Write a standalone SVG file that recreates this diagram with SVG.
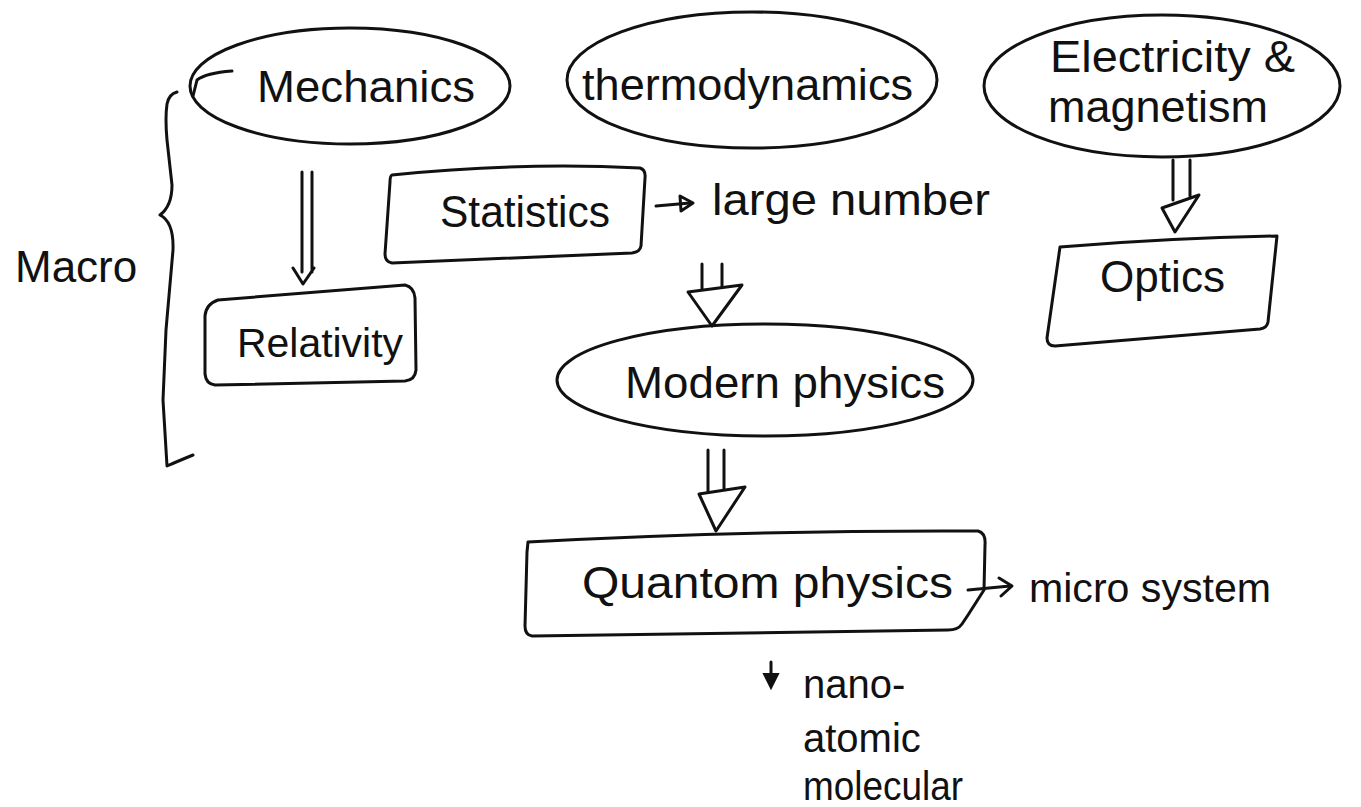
<svg xmlns="http://www.w3.org/2000/svg" width="1361" height="807" viewBox="0 0 1361 807">
<style>
.s{fill:none;stroke:#111;stroke-width:3;stroke-linecap:round;stroke-linejoin:round}
.h{fill:#fff;stroke:#111;stroke-width:3;stroke-linejoin:round}
.t{font-family:"Liberation Sans",Arial,sans-serif;font-size:44px;fill:#111}
.m{font-size:40px}
</style>
<rect width="1361" height="807" fill="#fff"/>
<g id="macro">
<path class="s" d="M177,92 Q169,94 167,104 Q165,118 167,140 L172,185 Q172,206 160,215 Q174,222 173,250 L166,330 L163,400 L167,466 Q176,462 193,455"/>
<text class="t" x="15" y="282">Macro</text>
</g>
<g id="mechanics">
<ellipse class="s" cx="350" cy="86" rx="160" ry="58"/>
<path class="s" d="M193,96 L197,80 Q206,73 232,71"/>
<text class="t" x="257" y="102" textLength="218" lengthAdjust="spacingAndGlyphs">Mechanics</text>
</g>
<g id="thermodynamics">
<ellipse class="s" cx="752" cy="80" rx="185" ry="68"/>
<text class="t" x="582" y="100" textLength="331" lengthAdjust="spacingAndGlyphs">thermodynamics</text>
</g>
<g id="em">
<ellipse class="s" cx="1162" cy="86" rx="178" ry="71"/>
<text class="t" x="1050" y="72" font-size="42" textLength="245" lengthAdjust="spacingAndGlyphs">Electricity &amp;</text>
<text class="t" x="1048" y="122" font-size="42" textLength="220" lengthAdjust="spacingAndGlyphs">magnetism</text>
</g>
<g id="statistics">
<path class="s" d="M392,175 Q520,162 640,168 Q646,170 645,178 L641,246 Q640,252 632,253 L392,263 Q385,262 385,254 L390,182 Q390,176 392,175 Z"/>
<text class="t" x="440" y="227" textLength="170" lengthAdjust="spacingAndGlyphs">Statistics</text>
</g>
<g id="large-number">
<text class="t" x="712" y="215" textLength="278" lengthAdjust="spacingAndGlyphs">large number</text>
</g>
<g id="relativity">
<path class="s" d="M218,300 L405,285 Q414,287 415,298 L416,370 Q415,380 405,381 L215,385 Q206,384 205,374 L205,316 Q206,304 218,300 Z"/>
<text class="t m" x="237" y="357" textLength="166" lengthAdjust="spacingAndGlyphs">Relativity</text>
</g>
<g id="modern">
<ellipse class="s" cx="765" cy="380" rx="208" ry="56"/>
<text class="t" x="625" y="398" textLength="320" lengthAdjust="spacingAndGlyphs">Modern physics</text>
</g>
<g id="optics">
<path class="s" d="M1060,247 Q1170,238 1277,236 L1268,322 Q1267,328 1260,329 L1055,346 Q1047,346 1047,338 Z"/>
<text class="t" x="1100" y="292" textLength="125" lengthAdjust="spacingAndGlyphs">Optics</text>
</g>
<g id="quantum">
<path class="s" d="M528,542 Q750,530 978,531 Q986,533 985,545 L984,590 L968,615 L962,624 Q958,630 948,630 L532,636 Q525,635 525,626 L527,552 Z"/>
<text class="t" x="582" y="598" font-size="46" textLength="371" lengthAdjust="spacingAndGlyphs">Quantom physics</text>
</g>
<g id="micro-system">
<text class="t m" x="1029" y="602" font-size="42" textLength="242" lengthAdjust="spacingAndGlyphs">micro system</text>
</g>
<g id="scales">
<text class="t m" x="803" y="698">nano-</text>
<text class="t m" x="803" y="752">atomic</text>
<text class="t m" x="803" y="800" textLength="160" lengthAdjust="spacingAndGlyphs">molecular</text>
</g>
<g id="connectors">
<path class="s" d="M302,172 L302,272 M312,172 L312,272 M293,268 L303,284 L314,268"/>
<path class="s" d="M702,264 L702,290 M722,264 L722,288"/>
<polygon class="h" points="688,292 742,285 712,326"/>
<path class="s" d="M1173,160 L1173,200 M1190,160 L1190,196"/>
<polygon class="h" points="1162,208 1199,195 1175,232"/>
<path class="s" d="M708,450 L708,492 M724,450 L724,490"/>
<polygon class="h" points="699,494 745,487 716,531"/>
<path class="s" d="M656,206 L690,203"/>
<polygon class="s" points="680,196 693,203 681,211"/>
<path class="s" d="M968,590 L1010,586 M999,578 L1012,586 L1001,596"/>
<path class="s" d="M771,662 L771,676"/>
<polygon points="764,674 778,674 771,688" fill="#111" stroke="#111" stroke-width="2"/>
</g>
</svg>
